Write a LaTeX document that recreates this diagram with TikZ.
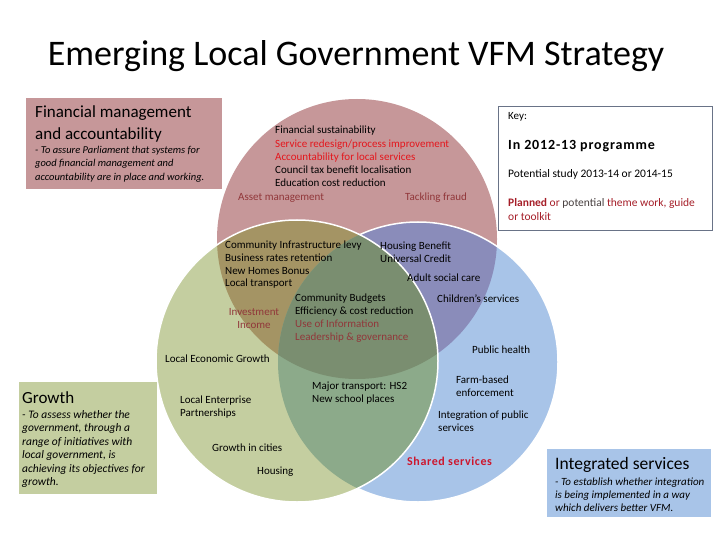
\documentclass[tikz,border=0pt]{standalone}
\usepackage{fontspec}
\setmainfont{Carlito}
\definecolor{pinkc}{RGB}{198,151,153}
\definecolor{greenc}{RGB}{196,206,160}
\definecolor{bluec}{RGB}{168,196,232}
\definecolor{pinkgreenc}{RGB}{164,148,100}
\definecolor{pinkbluec}{RGB}{138,140,186}
\definecolor{greenbluec}{RGB}{140,170,138}
\definecolor{triplec}{RGB}{122,142,112}
\definecolor{hotred}{RGB}{228,22,28}
\definecolor{rosetxt}{RGB}{145,55,58}
\definecolor{boldred}{RGB}{205,22,45}
\definecolor{keyred}{RGB}{165,30,40}
\definecolor{keygrey}{RGB}{70,62,62}
\definecolor{keyline}{RGB}{105,115,135}
\tikzset{
  rim/.style={draw=white, line width=1.5pt},
  txt/.style={inner sep=0pt, anchor=west, align=left, font=\fontsize{11}{13}\selectfont},
  boxhead/.style={inner sep=0pt, anchor=west, align=left, font=\fontsize{17}{22}\selectfont},
  boxnote/.style={inner sep=0pt, anchor=west, align=left, font=\fontsize{11}{13.5}\selectfont\itshape},
}

\begin{document}
\begin{tikzpicture}[x=1pt,y=-1pt]
    \useasboundingbox (0,0) rectangle (720,540);
    \coordinate (P) at (357,239);
    \coordinate (G) at (297,361);
    \coordinate (B) at (418,362);
    \def\rP{140pt}
    \def\rG{141pt}
    \def\rB{140pt}
    % the three rings
    \fill[pinkc] (P) circle[radius=\rP];
    \fill[bluec] (B) circle[radius=\rB];
    \begin{scope}
        \clip (P) circle[radius=\rP];
        \fill[pinkbluec] (B) circle[radius=\rB];
    \end{scope}
    \draw[rim] (B) circle[radius=\rB];
    \fill[greenc] (G) circle[radius=\rG];
    \begin{scope}
        \clip (G) circle[radius=\rG];
        \fill[pinkgreenc] (P) circle[radius=\rP];
        \fill[greenbluec] (B) circle[radius=\rB];
        \clip (P) circle[radius=\rP];
        \fill[triplec] (B) circle[radius=\rB];
    \end{scope}
    \draw[rim] (G) circle[radius=\rG];
    % boxes
    \fill[pinkc] (26,98) rectangle (222,189);
    \fill[greenc] (19,382) rectangle (157,494);
    \fill[bluec] (547,449) rectangle (711,517);
    \draw[keyline, line width=0.8pt] (498,106) rectangle (712,230);
    % title
    \node (title) at (356,56) {\fontsize{36}{40}\selectfont Emerging Local Government VFM Strategy};
    % financial box
    \node[boxhead] (finhead) at (35,124) {Financial management\\and accountability};
    \node[boxnote, font=\fontsize{10.5}{13.5}\selectfont\itshape] (finnote) at (35,164) {- To assure Parliament that systems for\\good financial management and\\accountability are in place and working.};
    % growth box
    \node[boxhead] (grohead) at (22,398) {Growth};
    \node[boxnote, font=\fontsize{11.5}{13.4}\selectfont\itshape] (gronote) at (22,449) {- To assess whether the\\government, through a\\range of initiatives with\\local government, is\\achieving its objectives for\\growth.};
    % integrated box
    \node[boxhead, font=\fontsize{17.5}{22}\selectfont] (inthead) at (555,465) {Integrated services};
    \node[boxnote, font=\fontsize{11}{13}\selectfont\itshape] (intnote) at (555,495) {- To establish whether integration\\is being implemented in a way\\which delivers better VFM.};
    % key
    \node[txt] (key) at (508,117) {Key:};
    \node[txt, font=\fontsize{14}{16}\selectfont\bfseries\addfontfeatures{LetterSpace=6}] (keyprog) at (508,146) {In 2012-13 programme};
    \node[txt, font=\fontsize{11.5}{14}\selectfont] (keystudy) at (508,174) {Potential study 2013-14 or 2014-15};
    \node[txt, font=\fontsize{11.5}{14}\selectfont, text=keyred] (keyplan) at (508,210) {\textbf{Planned} or \textcolor{keygrey}{potential} theme work, guide\\or toolkit};
    % financial ring
    \node[txt, font=\fontsize{11}{13.25}\selectfont] (finlist) at (275,156.5) {Financial sustainability\\\textcolor{hotred}{Service redesign/process improvement}\\\textcolor{hotred}{Accountability for local services}\\Council tax benefit localisation\\Education cost reduction};
    \node[txt, text=rosetxt] (asset) at (238,198) {Asset management};
    \node[txt, text=rosetxt] (fraud) at (405,198) {Tackling fraud};
    % overlaps
    \node[txt, font=\fontsize{11}{12.7}\selectfont] (levy) at (225,265) {Community Infrastructure levy\\Business rates retention\\New Homes Bonus\\Local transport};
    \node[txt] (benefit) at (380,252) {Housing Benefit\\Universal Credit};
    \node[txt] (adult) at (407,278) {Adult social care};
    \node[txt] (budgets) at (295,318.5) {Community Budgets\\Efficiency \& cost reduction\\\textcolor{rosetxt}{Use of Information}\\\textcolor{rosetxt}{Leadership \& governance}};
    \node[txt, anchor=center, align=center, text=rosetxt] (invest) at (254,318.5) {Investment\\Income};
    \node[txt] (children) at (437,299) {Children’s services};
    % growth ring
    \node[txt] (leg) at (165,359) {Local Economic Growth};
    \node[txt] (lep) at (180,407) {Local Enterprise\\Partnerships};
    \node[txt] (cities) at (212,448) {Growth in cities};
    \node[txt] (housing) at (257,472) {Housing};
    \node[txt] (hstwo) at (312,393.5) {Major transport: HS2\\New school places};
    % services ring
    \node[txt] (health) at (472,350) {Public health};
    \node[txt] (farm) at (456,386.5) {Farm-based\\enforcement};
    \node[txt] (integ) at (438,421.5) {Integration of public\\services};
    \node[txt, font=\fontsize{12}{14}\selectfont\bfseries\addfontfeatures{LetterSpace=5}, text=boldred] (shared) at (407,461) {Shared services};
\end{tikzpicture}
\end{document}
